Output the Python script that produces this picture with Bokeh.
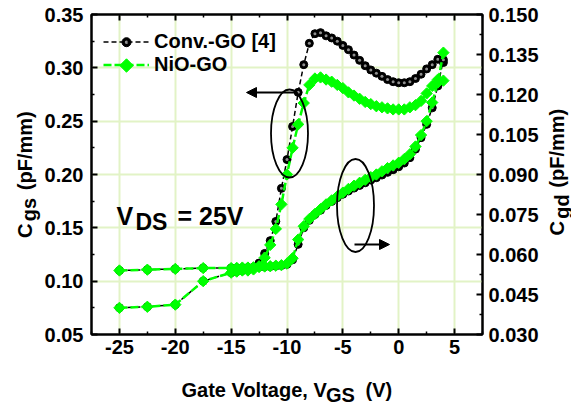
import math
from bokeh.plotting import figure
from bokeh.models import (Range1d, LinearAxis, FixedTicker, PrintfTickFormatter,
                          Label, Legend, LegendItem, Arrow, NormalHead)
from bokeh.embed import file_html
from bokeh.resources import INLINE

# ---------------- data ----------------
vgs = [-25, -22.5, -20, -17.5, -15, -14.5, -14, -13.5, -13, -12.5, -12, -11.5, -11,
       -10.5, -10, -9.5, -9, -8.5, -8, -7.5, -7, -6.5, -6, -5.5, -5, -4.5, -4, -3.5,
       -3, -2.5, -2, -1.5, -1, -0.5, 0, 0.5, 1, 1.5, 2, 2.5, 3, 3.5, 4]

cgs_conv = [0.075, 0.076, 0.078, 0.100, 0.108, 0.109, 0.110, 0.111, 0.113, 0.117, 0.126,
            0.138, 0.156, 0.187, 0.214, 0.245, 0.277, 0.303, 0.323, 0.332, 0.333, 0.330,
            0.328, 0.325, 0.321, 0.317, 0.312, 0.307, 0.302, 0.298, 0.295, 0.292, 0.289,
            0.287, 0.286, 0.286, 0.287, 0.290, 0.294, 0.299, 0.303, 0.308, 0.305]

cgs_nio = [0.075, 0.076, 0.078, 0.100, 0.108, 0.109, 0.110, 0.110, 0.111, 0.114, 0.122,
           0.134, 0.149, 0.172, 0.200, 0.225, 0.247, 0.267, 0.284, 0.290, 0.291, 0.289,
           0.287, 0.284, 0.281, 0.277, 0.274, 0.271, 0.268, 0.266, 0.264, 0.263, 0.262,
           0.261, 0.261, 0.261, 0.263, 0.265, 0.269, 0.276, 0.283, 0.289, 0.288]

cgd_conv = [0.0540, 0.0543, 0.0546, 0.0549, 0.0549, 0.0550, 0.0550, 0.0551, 0.0552, 0.0553,
            0.0554, 0.0555, 0.0557, 0.0559, 0.0563, 0.0580, 0.0638, 0.0700, 0.0728, 0.0750,
            0.0766, 0.0784, 0.0799, 0.0813, 0.0826, 0.0838, 0.0849, 0.0859, 0.0869, 0.0879,
            0.0888, 0.0898, 0.0908, 0.0918, 0.0929, 0.0943, 0.0963, 0.0995, 0.1038, 0.1088,
            0.1150, 0.1232, 0.1330]

cgd_nio = [0.0540, 0.0543, 0.0546, 0.0549, 0.0549, 0.0550, 0.0551, 0.0551, 0.0552, 0.0553,
           0.0555, 0.0556, 0.0558, 0.0560, 0.0566, 0.0586, 0.0656, 0.0706, 0.0733, 0.0752,
           0.0770, 0.0788, 0.0803, 0.0818, 0.0832, 0.0846, 0.0858, 0.0869, 0.0880, 0.0890,
           0.0900, 0.0912, 0.0924, 0.0934, 0.0944, 0.0958, 0.0976, 0.1005, 0.1048, 0.1100,
           0.1170, 0.1245, 0.1357]

x_ticks = [-25, -20, -15, -10, -5, 0, 5]
x_minor = [-27.5, -22.5, -17.5, -12.5, -7.5, -2.5, 2.5, 7.5]
cgs_ticks = [0.05, 0.10, 0.15, 0.20, 0.25, 0.30, 0.35]
cgs_minor = [0.075, 0.125, 0.175, 0.225, 0.275, 0.325]
cgd_ticks = [0.030, 0.045, 0.060, 0.075, 0.090, 0.105, 0.120, 0.135, 0.150]
cgd_minor = [0.0375, 0.0525, 0.0675, 0.0825, 0.0975, 0.1125, 0.1275, 0.1425]

series_names = ["Conv.-GO [4]", "NiO-GO"]

# ---------------- styling ----------------
FONT = "Liberation Sans"
GREEN = "#00ff00"
GRID = "#e2f3c6"
HILITE = "#8f8f8f"
NB = "\u00a0"
X0, X1 = -27.5, 7.5
Y0, Y1 = 0.05, 0.35
R0, R1 = 0.03, 0.15

# pixel geometry of the frame inside the canvas
FL, FR, FT, FB = 91, 482, 14, 334
W, H = 571, 403


def px(xp):
    return X0 + (xp - FL) * (X1 - X0) / (FR - FL)


def py(yp):
    return Y0 + (FB - yp) * (Y1 - Y0) / (FB - FT)


p = figure(width=W, height=H, x_range=Range1d(X0, X1), y_range=Range1d(Y0, Y1),
           output_backend="svg", toolbar_location=None,
           min_border_left=FL, min_border_right=W - FR, min_border_top=FT,
           min_border_bottom=H - FB)
p.extra_y_ranges = {"cgd": Range1d(R0, R1)}
p.background_fill_color = "white"
p.border_fill_color = "white"
p.outline_line_color = "black"
p.outline_line_width = 2


def style_axis(ax, ticks, minor, fmt, standoff):
    ax.ticker = FixedTicker(ticks=ticks, minor_ticks=minor)
    ax.formatter = PrintfTickFormatter(format=fmt)
    ax.axis_line_width = 2
    ax.axis_line_color = "black"
    ax.major_tick_in = 6
    ax.major_tick_out = 0
    ax.minor_tick_in = 3
    ax.minor_tick_out = 0
    ax.major_tick_line_width = 2
    ax.minor_tick_line_width = 1.5
    ax.major_tick_line_color = "black"
    ax.minor_tick_line_color = "black"
    ax.major_label_text_font = FONT
    ax.major_label_text_font_style = "bold"
    ax.major_label_text_font_size = "20px"
    ax.major_label_text_color = "black"
    ax.major_label_standoff = standoff
    ax.axis_label = None


style_axis(p.xaxis[0], x_ticks, x_minor, "%d", 5)
style_axis(p.yaxis[0], cgs_ticks, cgs_minor, "%.2f", 8)

right_ax = LinearAxis(y_range_name="cgd")
style_axis(right_ax, cgd_ticks, cgd_minor, "%.3f", 6)
p.add_layout(right_ax, "right")

top_ax = LinearAxis()
style_axis(top_ax, x_ticks, x_minor, "%d", 0)
top_ax.major_label_overrides = {t: "" for t in x_ticks}
top_ax.major_label_text_font_size = "0px"
p.add_layout(top_ax, "above")

p.xgrid.ticker = FixedTicker(ticks=x_ticks)
p.ygrid.ticker = FixedTicker(ticks=cgs_ticks)
for g in (p.xgrid[0], p.ygrid[0]):
    g.grid_line_color = GRID
    g.grid_line_width = 2

# ---------------- data renderers ----------------
# Conv.-GO (black spheres, dashed black line)
l_cgs_c = p.line(vgs, cgs_conv, line_color="black", line_width=1.5, line_dash="5 3")
p.scatter(vgs, cgs_conv, marker="circle", size=8, fill_color="black", line_color="black")
p.scatter(vgs, cgs_conv, marker="circle", size=3, fill_color=HILITE, line_color=None)

p.line(vgs, cgd_conv, line_color="black", line_width=1.5, line_dash="5 3", y_range_name="cgd")
p.scatter(vgs, cgd_conv, marker="circle", size=8, fill_color="black", line_color="black",
          y_range_name="cgd")
p.scatter(vgs, cgd_conv, marker="circle", size=3, fill_color=HILITE, line_color=None,
          y_range_name="cgd")

# NiO-GO (green diamonds, green line)
l_cgs_n = p.line(vgs, cgs_nio, line_color=GREEN, line_width=2.5, line_dash="8 3")
p.scatter(vgs, cgs_nio, marker="square", angle=math.pi / 4, size=8,
          fill_color=GREEN, line_color=GREEN)
p.line(vgs, cgd_nio, line_color=GREEN, line_width=2.5, line_dash="8 3", y_range_name="cgd")
p.scatter(vgs, cgd_nio, marker="square", angle=math.pi / 4, size=8,
          fill_color=GREEN, line_color=GREEN, y_range_name="cgd")

# ---------------- legend (lines from Legend, symbols overlaid) ----------------
legend = Legend(items=[LegendItem(label=series_names[0], renderers=[l_cgs_c]),
                       LegendItem(label=series_names[1], renderers=[l_cgs_n])],
                location=(12, 258), margin=0, padding=0, spacing=0,
                glyph_width=46, glyph_height=23, label_height=23, label_standoff=5,
                border_line_color=None, background_fill_alpha=0,
                label_text_font=FONT, label_text_font_style="bold",
                label_text_font_size="20px", label_text_color="black")
p.add_layout(legend)
p.scatter([px(126)], [py(41.7)], marker="circle", size=9, fill_color="black", line_color="black")
p.scatter([px(126)], [py(41.7)], marker="circle", size=3.5, fill_color=HILITE, line_color=None)
p.scatter([px(126)], [py(65)], marker="square", angle=math.pi / 4, size=9.5,
          fill_color=GREEN, line_color=GREEN)

# ---------------- ellipses & arrows ----------------
p.ellipse(x=[px(289), px(355)], y=[py(133), py(205)], width=[37, 37], height=[88, 93],
          width_units="screen", height_units="screen",
          fill_color=None, line_color="black", line_width=1.8)
p.add_layout(Arrow(end=NormalHead(size=10, fill_color="black", line_color="black"),
                   x_start=px(297), y_start=py(92), x_end=px(246), y_end=py(92),
                   line_color="black", line_width=1.8))
p.add_layout(Arrow(end=NormalHead(size=10, fill_color="black", line_color="black"),
                   x_start=px(354), y_start=py(244), x_end=px(389), y_end=py(244),
                   line_color="black", line_width=1.8))


# ---------------- texts ----------------
def side_text(side, xp, yp, s, size, angle=0.0, lh=1.2):
    """Axis titles: labels kept in the side panels (not clipped by the frame)."""
    p.add_layout(Label(x=xp, y=yp, x_units="canvas", y_units="canvas", text=s, angle=angle,
                       text_font=FONT, text_font_style="bold", text_font_size=size,
                       text_line_height=lh, text_color="black", text_align="left",
                       text_baseline="alphabetic"), side)


def dtxt(xp, yp, s, size):
    """Text placed inside the frame."""
    p.add_layout(Label(x=px(xp), y=py(yp), text=s,
                       text_font=FONT, text_font_style="bold", text_font_size=size,
                       text_color="black", text_align="left", text_baseline="alphabetic"))


up = math.pi / 2
# x axis title:  Gate Voltage, V_GS (V)
side_text("below", 181, 392, "Gate Voltage, V" + NB * 7 + "(V)\n" + NB * 26 + "GS", "20px",
          lh=0.22)
# left axis title:  C_gs (pF/mm)
side_text("left", 26.5, 237.5, "C" + NB * 6 + "(pF/mm)\n" + NB * 3 + "gs", "20px", up, lh=0.2)
# right axis title: C_gd (pF/mm)
side_text("right", 559, 235, "C" + NB * 6 + "(pF/mm)\n" + NB * 3 + "gd", "20px", up, lh=0.2)

# V_DS annotation
dtxt(116, 215, "V", "25px")
dtxt(135, 221.5, "DS", "23px")
dtxt(177, 215, "= 25V", "25px")

open("out.html", "w").write(file_html(p, INLINE))
